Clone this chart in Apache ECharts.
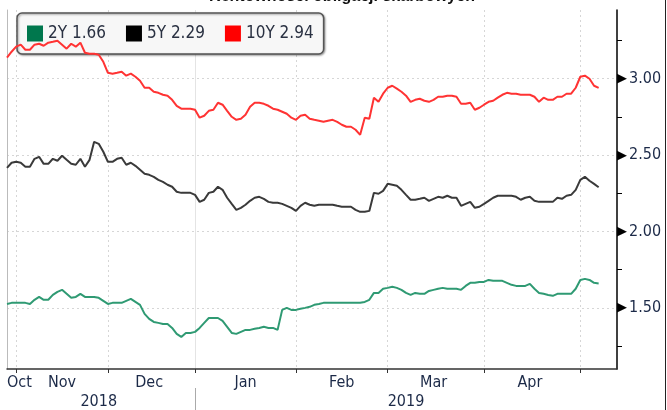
<!DOCTYPE html>
<html><head><meta charset="utf-8">
<script src="https://cdn.jsdelivr.net/npm/echarts@6/dist/echarts.min.js"></script>
<style>html,body{margin:0;padding:0;background:#fff}#c{width:667px;height:410px}</style>
</head><body><div id="c"></div>
<script>
// Trading days (Polish bond market) per month
const oct2018 = [30, 31];
const nov2018 = [2,5,6,7,8,9,13,14,15,16,19,20,21,22,23,26,27,28,29,30];
const dec2018 = [3,4,5,6,7,10,11,12,13,14,17,18,19,20,21,24,27,28,31];
const jan2019 = [2,3,4,7,8,9,10,11,14,15,16,17,18,21,22,23,24,25,28,29,30,31];
const feb2019 = [1,4,5,6,7,8,11,12,13,14,15,18,19,20,21,22,25,26,27,28];
const mar2019 = [1,4,5,6,7,8,11,12,13,14,15,18,19,20,21,22,25,26,27,28,29];
const apr2019 = [1,2,3,4,5,8,9,10,11,12,15,16,17,18,19,23,24,25,26,29,30];
const may2019 = [2,6,7,8,9,10,13,14,15];
const monthLabels = ['Oct','Nov','Dec','Jan','Feb','Mar','Apr',''];
const yearLabels = ['2018','2019'];
const yTickLabels = [1.5, 2.0, 2.5, 3.0];
const yMinorTicks = [1.25, 1.75, 2.25, 2.75, 3.25];

const y2 = [1.526,1.533,1.533,1.533,1.533,1.526,1.553,1.572,1.553,1.553,
1.585,1.605,1.618,1.592,1.566,1.572,1.592,1.572,1.572,1.572,
1.566,1.546,1.526,1.533,1.533,1.533,1.546,1.559,1.539,1.520,
1.461,1.428,1.408,1.402,1.395,1.395,1.369,1.330,1.310,1.336,
1.336,1.343,1.369,1.402,1.434,1.434,1.434,1.415,1.376,1.336,
1.330,1.343,1.356,1.356,1.363,1.369,1.376,1.369,1.369,1.356,
1.487,1.500,1.487,1.487,1.494,1.500,1.507,1.520,1.526,1.533,
1.533,1.533,1.533,1.533,1.533,1.533,1.533,1.533,1.539,1.553,
1.598,1.598,1.625,1.631,1.638,1.631,1.618,1.598,1.585,1.598,
1.592,1.592,1.611,1.618,1.625,1.631,1.625,1.625,1.625,1.618,
1.644,1.664,1.664,1.670,1.670,1.683,1.677,1.677,1.677,1.664,
1.651,1.644,1.644,1.644,1.657,1.625,1.598,1.592,1.585,1.579,
1.592,1.592,1.592,1.592,1.625,1.683,1.690,1.683,1.664,1.66];

const y5 = [2.417,2.450,2.456,2.450,2.424,2.424,2.476,2.489,2.443,2.443,
2.476,2.463,2.496,2.469,2.443,2.437,2.476,2.424,2.469,2.587,
2.574,2.522,2.456,2.456,2.476,2.483,2.437,2.450,2.430,2.404,
2.378,2.371,2.358,2.338,2.325,2.306,2.293,2.260,2.253,2.253,
2.253,2.240,2.194,2.208,2.253,2.260,2.293,2.273,2.221,2.181,
2.142,2.155,2.175,2.201,2.221,2.227,2.214,2.194,2.188,2.188,
2.181,2.168,2.155,2.135,2.168,2.188,2.175,2.168,2.175,2.175,
2.175,2.175,2.168,2.162,2.162,2.162,2.142,2.129,2.129,2.135,
2.253,2.247,2.266,2.312,2.306,2.299,2.273,2.240,2.208,2.208,
2.214,2.221,2.201,2.214,2.227,2.221,2.234,2.221,2.221,2.168,
2.181,2.194,2.155,2.162,2.181,2.201,2.221,2.234,2.234,2.234,
2.234,2.227,2.208,2.221,2.227,2.201,2.194,2.194,2.194,2.194,
2.221,2.214,2.234,2.240,2.273,2.338,2.358,2.332,2.312,2.29];

const y10 = [3.138,3.177,3.210,3.223,3.190,3.190,3.223,3.229,3.216,3.236,
3.242,3.249,3.223,3.197,3.229,3.210,3.236,3.170,3.164,3.164,
3.157,3.111,3.039,3.033,3.039,3.046,3.020,3.033,3.013,2.987,
2.941,2.941,2.915,2.908,2.895,2.889,2.862,2.823,2.804,2.804,
2.804,2.797,2.745,2.758,2.790,2.797,2.843,2.830,2.790,2.751,
2.731,2.738,2.764,2.817,2.843,2.843,2.836,2.823,2.804,2.797,
2.784,2.771,2.745,2.731,2.758,2.764,2.738,2.731,2.725,2.718,
2.725,2.731,2.718,2.699,2.686,2.686,2.666,2.633,2.745,2.738,
2.876,2.849,2.902,2.941,2.954,2.935,2.915,2.889,2.849,2.862,
2.869,2.856,2.849,2.862,2.882,2.882,2.889,2.889,2.882,2.836,
2.836,2.843,2.797,2.810,2.830,2.849,2.856,2.876,2.895,2.908,
2.902,2.902,2.895,2.895,2.895,2.882,2.849,2.876,2.862,2.862,
2.882,2.882,2.902,2.902,2.941,3.013,3.020,3.000,2.954,2.94];

// ---- build categories ----
const months = [
  ['2018-10', oct2018], ['2018-11', nov2018], ['2018-12', dec2018],
  ['2019-01', jan2019], ['2019-02', feb2019], ['2019-03', mar2019],
  ['2019-04', apr2019], ['2019-05', may2019]
];
const dates = [];
const monthStart = new Set();
const monthMid = {};
months.forEach(([ym, days], k) => {
  const a = dates.length;
  days.forEach(d => dates.push(ym + '-' + String(d).padStart(2, '0')));
  const b = dates.length - 1;
  if (a > 0) monthStart.add(a);
  if (monthLabels[k]) monthMid[a === 0 ? 0 : Math.round((a + b) / 2)] = monthLabels[k];
});
const yearMid = {};
let yearStart = -1;
yearLabels.forEach(y => {
  const a = dates.findIndex(d => d.startsWith(y));
  let b = -1; dates.forEach((d, i) => { if (d.startsWith(y)) b = i; });
  if (a > 0) yearStart = a;
  yearMid[Math.round((a + b) / 2)] = y;
});

const FONT = '"DejaVu Sans Condensed", "DejaVu Sans", "Liberation Sans", sans-serif';
const LABEL_COLOR = '#1c2a48';
const last = {'2Y': y2[y2.length-1], '5Y': y5[y5.length-1], '10Y': y10[y10.length-1]};
const yMin = 1.1, yMax = 3.45;

const chart = echarts.init(document.getElementById('c'), null, {renderer: 'canvas'});
chart.setOption({
  animation: false,
  backgroundColor: '#ffffff',
  title: {
    text: 'Rentowności obligacji skarbowych',
    left: 342, top: -11, textAlign: 'center', padding: 0,
    textStyle: {fontSize: 16, fontWeight: 'bold', color: '#111', fontFamily: '"Liberation Sans", sans-serif'}
  },
  legend: {
    left: 17, top: 13, icon: 'rect', itemWidth: 16, itemHeight: 16, itemGap: 20,
    padding: [12, 10, 12, 10],
    backgroundColor: 'rgba(247,247,247,1)', borderColor: '#555', borderWidth: 1.5, borderRadius: 5,
    shadowBlur: 2, shadowColor: 'rgba(0,0,0,0.35)', shadowOffsetX: 1, shadowOffsetY: 1,
    selectedMode: false,
    textStyle: {fontSize: 17, color: '#2a3142', fontFamily: FONT},
    formatter: name => name + ' ' + last[name].toFixed(2),
    data: [
      {name: '2Y', itemStyle: {color: '#00774d'}},
      {name: '5Y', itemStyle: {color: '#000000'}},
      {name: '10Y', itemStyle: {color: '#ff0000'}}
    ]
  },
  grid: {left: 7, right: 50, top: 10, bottom: 41, containLabel: false},
  xAxis: [
    {
      type: 'category', data: dates, boundaryGap: false, position: 'bottom',
      axisLine: {show: true, lineStyle: {color: '#333', width: 1.5}},
      axisTick: {show: true, interval: i => monthStart.has(i), length: 4, lineStyle: {color: '#333'}},
      axisLabel: {
        interval: i => (i in monthMid), formatter: (v, i) => monthMid[i] || '',
        alignMinLabel: 'left', margin: 6, color: LABEL_COLOR, fontSize: 16, fontFamily: FONT
      },
      splitLine: {show: true, interval: i => monthStart.has(i), lineStyle: {color: '#d6d6d6', type: [2, 3], width: 1}}
    },
    {
      type: 'category', data: dates, boundaryGap: false, position: 'bottom', offset: 19,
      axisLine: {show: false},
      axisTick: {show: true, interval: i => i === yearStart, length: 22, lineStyle: {color: '#aaa'}},
      axisLabel: {
        interval: i => (i in yearMid), formatter: (v, i) => yearMid[i] || '',
        margin: 6, color: LABEL_COLOR, fontSize: 16, fontFamily: FONT
      },
      splitLine: {show: true, interval: i => i === yearStart, lineStyle: {color: '#e4e4e4', width: 1}}
    }
  ],
  yAxis: [
    {
      type: 'value', position: 'right', min: yMin, max: yMax,
      axisLine: {show: true, lineStyle: {color: '#000', width: 1.5}},
      axisTick: {show: true, customValues: yMinorTicks, length: 5, lineStyle: {color: '#000'}},
      axisLabel: {
        customValues: yTickLabels, margin: 0,
        formatter: v => '{t|▶}{v|' + v.toFixed(2) + '}',
        rich: {
          t: {fontSize: 13, color: '#000', width: 12, align: 'left', verticalAlign: 'middle', fontFamily: '"DejaVu Sans", sans-serif'},
          v: {fontSize: 16, color: LABEL_COLOR, fontFamily: FONT, verticalAlign: 'middle'}
        }
      },
      splitLine: {show: false}
    },
    {
      type: 'value', position: 'right', min: yMin, max: yMax,
      axisLine: {show: false}, axisTick: {show: false, customValues: yTickLabels},
      axisLabel: {show: false, customValues: yTickLabels},
      splitLine: {show: true, lineStyle: {color: '#d6d6d6', type: [2, 3], width: 1}}
    },
    {
      type: 'value', position: 'left', min: yMin, max: yMax,
      axisLine: {show: true, lineStyle: {color: '#bbbbbb', width: 1}},
      axisTick: {show: false}, axisLabel: {show: false}, splitLine: {show: false}
    }
  ],
  series: [
    {name: '2Y', type: 'line', data: y2, symbol: 'none', z: 10,
     lineStyle: {color: '#2f9a73', width: 2}, itemStyle: {color: '#00774d'}},
    {name: '5Y', type: 'line', data: y5, symbol: 'none', z: 10,
     lineStyle: {color: '#3a3a3a', width: 2}, itemStyle: {color: '#000000'}},
    {name: '10Y', type: 'line', data: y10, symbol: 'none', z: 10,
     lineStyle: {color: '#ff3333', width: 2}, itemStyle: {color: '#ff0000'}}
  ],
  graphic: [
    {type: 'line', shape: {x1: 665.5, y1: 0, x2: 665.5, y2: 410}, style: {stroke: '#222', lineWidth: 1}, silent: true}
  ]
});
</script>
</body></html>
